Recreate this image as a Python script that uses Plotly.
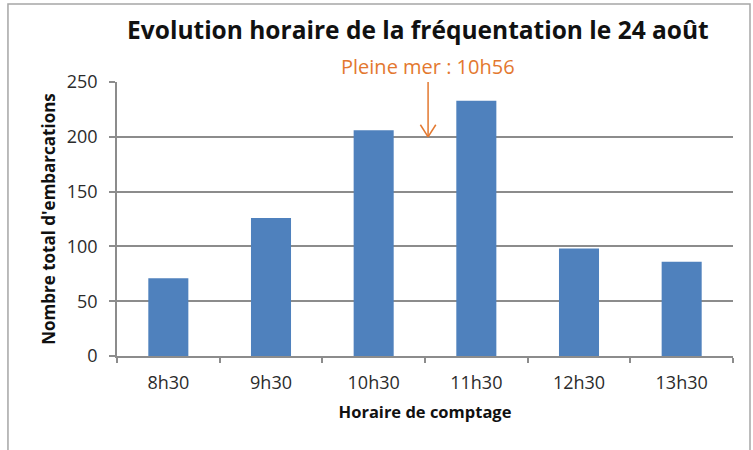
import plotly.graph_objects as go

# Hourly boat counts on 24 August
horaires = ["8h30", "9h30", "10h30", "11h30", "12h30", "13h30"]
embarcations = [71, 126, 206, 233, 98, 86]

# High-tide marker
pleine_mer_label = "Pleine mer : 10h56"
pleine_mer_pos = 2.53          # position on the category axis
fleche_haut, fleche_bas = 250, 200

FONT = "Open Sans"
GRAY = "#8c8c8c"
ORANGE = "#E3782F"
BLUE = "#4F81BD"
TEXT = "#2b2b2b"

fig = go.Figure(
    go.Bar(
        x=horaires,
        y=embarcations,
        marker=dict(color=BLUE, line=dict(width=0)),
        width=0.39,
    )
)

# arrow: shaft plus an open V head
head_dx, head_dy = 0.075, 11
fig.add_shape(type="line", xref="x", yref="y",
              x0=pleine_mer_pos, x1=pleine_mer_pos, y0=fleche_haut, y1=fleche_bas,
              line=dict(color=ORANGE, width=1.5))
for s in (-1, 1):
    fig.add_shape(type="line", xref="x", yref="y",
                  x0=pleine_mer_pos + s * head_dx, y0=fleche_bas + head_dy,
                  x1=pleine_mer_pos, y1=fleche_bas,
                  line=dict(color=ORANGE, width=1.5))

fig.add_annotation(x=pleine_mer_pos, y=1.058, xref="x", yref="paper",
                   text=pleine_mer_label, showarrow=False, yanchor="middle",
                   font=dict(family=FONT, size=20, color=ORANGE))

# outer chart frame
fig.add_shape(type="rect", xref="paper", yref="paper",
              x0=-0.177, x1=1.0276, y0=-0.4, y1=1.2847,
              line=dict(color="#a6a6a6", width=1.5), fillcolor="rgba(0,0,0,0)", layer="below")

fig.update_layout(
    width=753, height=450,
    margin=dict(l=117, r=20, t=82, b=94),
    paper_bgcolor="white", plot_bgcolor="white",
    showlegend=False,
    font=dict(family=FONT, color=TEXT),
    title=dict(text="<b>Evolution horaire de la fréquentation le 24 août</b>",
               x=0.555, xanchor="center", y=0.933, yanchor="middle",
               font=dict(family=FONT, size=24.5, color="#111")),
)

fig.update_xaxes(
    type="category",
    showline=True, linecolor=GRAY, linewidth=1.5,
    ticks="outside", tickson="boundaries", ticklen=5, tickcolor=GRAY, tickwidth=1.5,
    tickfont=dict(family=FONT, size=18, color=TEXT),
    ticklabelstandoff=10,
    showgrid=False,
    title=dict(text="<b>Horaire de comptage</b>", standoff=13,
               font=dict(family=FONT, size=16.5, color="#111")),
)
fig.update_yaxes(
    range=[0, 250], dtick=50,
    showline=True, linecolor=GRAY, linewidth=1.5,
    ticks="outside", ticklen=6, tickcolor=GRAY, tickwidth=1.5,
    ticklabelstandoff=8,
    showgrid=True, gridcolor=GRAY, gridwidth=1.5,
    zeroline=False,
    tickfont=dict(family=FONT, size=18, color=TEXT),
    title=dict(text="<b>Nombre total d'embarcations</b>", standoff=7,
               font=dict(family=FONT, size=17, color="#111")),
)

fig.write_html("out.html")
